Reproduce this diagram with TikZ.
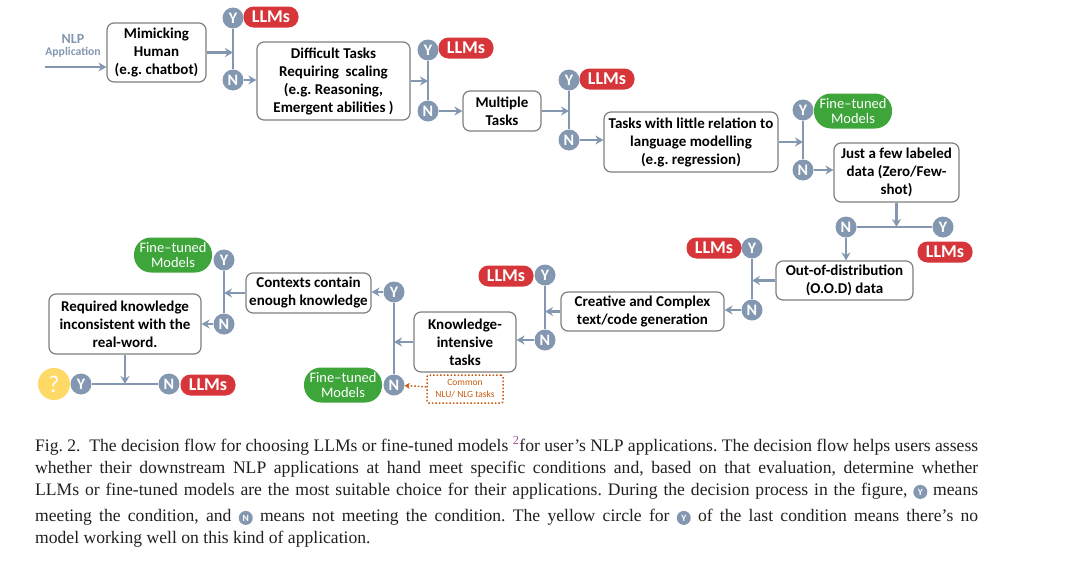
\documentclass[tikz,border=0pt]{standalone}
\usepackage{fontspec}
\setmainfont{Liberation Serif}
\newfontfamily\diafont{Carlito}
\usetikzlibrary{arrows.meta}
\definecolor{flowc}{HTML}{8497B0}
\definecolor{boxc}{HTML}{7F7F7F}
\definecolor{llmc}{HTML}{D6363A}
\definecolor{ftc}{HTML}{3DA53A}
\definecolor{orangec}{HTML}{C55A11}
\definecolor{askc}{HTML}{FFD966}
\definecolor{capc}{HTML}{231F20}
\definecolor{linkc}{HTML}{9B4F96}
\newcommand\capdot[1]{\tikz[baseline=(c.base)]\node (c) [circle, fill=flowc, text=white, inner sep=0pt, minimum size=14pt, font=\diafont\bfseries\fontsize{9.5}{9.5}\selectfont] {#1};}
\frenchspacing

\begin{document}
\begin{tikzpicture}[x=1pt, y=-1pt,
        box/.style={rectangle, draw=boxc, fill=white, line width=1.2pt, rounded corners=7pt, align=center, inner sep=2pt, font=\diafont\bfseries\fontsize{15}{18}\selectfont},
        yn/.style={circle, fill=flowc, text=white, inner sep=0pt, minimum size=21pt, font=\diafont\bfseries\fontsize{16}{16}\selectfont},
        llm/.style={rectangle, rounded corners=10pt, fill=llmc, text=white, minimum width=55pt, minimum height=21pt, inner sep=0pt, font=\diafont\bfseries\fontsize{18}{18}\selectfont},
        ft/.style={rectangle, rounded corners=17pt, fill=ftc, text=white, align=center, minimum width=78pt, minimum height=35pt, inner sep=0pt, font=\diafont\fontsize{14.5}{15}\selectfont},
        flow/.style={draw=flowc, line width=2.6pt},
        arrow/.style={flow, -{Stealth[length=8pt, width=9pt]}},
        caption/.style={anchor=base west, inner sep=0pt, text=capc, font=\fontsize{17.6}{22}\selectfont}]

        \useasboundingbox (0,0) rectangle (1080,565);

        \node (app) [text=flowc, align=center, font=\diafont\bfseries] at (73,46) {\fontsize{14}{16}\selectfont NLP\\\fontsize{11.7}{13}\selectfont Application};
        \coordinate (start) at (45,67);

        \node (b1) [box, minimum width=99pt, minimum height=59pt] at (156.5,52.5) {Mimicking\\Human\\(e.g. chatbot)};
        \node (b2) [box, minimum width=153pt, minimum height=78pt] at (333.5,81) {Difficult Tasks\\Requiring~ scaling\\(e.g. Reasoning,\\Emergent abilities )};
        \node (b3) [box, minimum width=78pt, minimum height=40pt] at (502,111) {Multiple\\Tasks};
        \node (b4) [box, minimum width=174pt, minimum height=60pt] at (691,142) {Tasks with little relation to\\language modelling\\(e.g. regression)};
        \node (b5) [box, minimum width=125pt, minimum height=59pt] at (896.5,172.5) {Just a few labeled\\data (Zero/Few-\\shot)};
        \node (b6) [box, minimum width=137pt, minimum height=39pt] at (844.5,280.5) {Out-of-distribution\\(O.O.D) data};
        \node (b7) [box, minimum width=163pt, minimum height=39pt] at (642.5,311.5) {Creative and Complex\\text/code generation};
        \node (b8) [box, minimum width=102pt, minimum height=60pt] at (465,342) {Knowledge-\\intensive\\tasks};
        \node (b9) [box, minimum width=125pt, minimum height=40pt] at (308.5,293) {Contexts contain\\enough knowledge};
        \node (b10) [box, minimum width=152pt, minimum height=60pt] at (125,324) {Required knowledge\\inconsistent with the\\real-word.};

        \node (y1) [yn] at (233,18) {Y};
        \node (n1) [yn] at (233,80) {N};
        \node (y2) [yn] at (428,50) {Y};
        \node (n2) [yn] at (428,111) {N};
        \node (y3) [yn] at (569,80) {Y};
        \node (n3) [yn] at (569,140) {N};
        \node (y4) [yn] at (803,110) {Y};
        \node (n4) [yn] at (803,170) {N};
        \node (n5) [yn] at (846,227) {N};
        \node (y5) [yn] at (943,227) {Y};
        \node (y6) [yn] at (752,248) {Y};
        \node (n6) [yn] at (752,310) {N};
        \node (y7) [yn] at (545,275) {Y};
        \node (n7) [yn] at (545,340) {N};
        \node (y8) [yn] at (394,292) {Y};
        \node (n8) [yn] at (394,385) {N};
        \node (y9) [yn] at (224,260) {Y};
        \node (n9) [yn] at (224,324) {N};
        \node (y10) [yn] at (81,384) {Y};
        \node (n10) [yn] at (169,384) {N};

        \node (l1) [llm] at (271,17) {LLMs};
        \node (l2) [llm] at (466,48) {LLMs};
        \node (l3) [llm] at (607,79) {LLMs};
        \node (l5) [llm] at (945,252) {LLMs};
        \node (l6) [llm] at (714,248) {LLMs};
        \node (l7) [llm] at (506,276) {LLMs};
        \node (l10) [llm] at (208,385) {LLMs};
        \node (f4) [ft] at (853,111) {Fine–tuned\\Models};
        \node (f8) [ft] at (343,385) {Fine–tuned\\Models};
        \node (f9) [ft] at (173,255) {Fine–tuned\\Models};
        \node (ask) [circle, fill=askc, text=white, minimum size=32pt, inner sep=0pt, font=\diafont\fontsize{24}{24}\selectfont] at (54,384) {?};
        \node (com) [draw=orangec, dotted, line width=1.5pt, rounded corners=2pt, text=orangec, align=center, minimum width=76pt, minimum height=28pt, inner sep=1pt, font=\diafont\fontsize{9.5}{12}\selectfont] at (465,389) {Common\\NLU/ NLG tasks};

        \draw [arrow] (start) -- (b1.west |- start);
        \draw [flow] (y1) -- (n1);
        \draw [arrow] (b1.east) -- (b1.east -| y1);
        \draw [arrow] (n1) -- (n1 -| b2.west);
        \draw [flow] (y2) -- (n2);
        \draw [arrow] (b2.east) -- (b2.east -| y2);
        \draw [arrow] (n2) -- (n2 -| b3.west);
        \draw [flow] (y3) -- (n3);
        \draw [arrow] (b3.east) -- (b3.east -| y3);
        \draw [arrow] (n3) -- (n3 -| b4.west);
        \draw [flow] (y4) -- (n4);
        \draw [arrow] (b4.east) -- (b4.east -| y4);
        \draw [arrow] (n4) -- (n4 -| b5.west);
        \draw [flow] (n5) -- (y5);
        \draw [arrow] (b5.south) -- (b5.south |- n5);
        \draw [arrow] (n5) -- (n5 |- b6.north);
        \draw [flow] (y6) -- (n6);
        \draw [arrow] (b6.west) -- (b6.west -| y6);
        \draw [arrow] (n6) -- (n6 -| b7.east);
        \draw [flow] (y7) -- (n7);
        \draw [arrow] (b7.west) -- (b7.west -| y7);
        \draw [arrow] (n7) -- (n7 -| b8.east);
        \draw [flow] (y8) -- (n8);
        \draw [arrow] (b8.west) -- (b8.west -| y8);
        \draw [arrow] (y8) -- (y8 -| b9.east);
        \draw [flow] (y9) -- (n9);
        \draw [arrow] (b9.west) -- (b9.west -| y9);
        \draw [arrow] (n9) -- (n9 -| b10.east);
        \draw [flow] (y10) -- (n10);
        \draw [arrow] (b10.south) -- (b10.south |- y10);
        \draw [orangec, dotted, line width=1.5pt, -{Stealth[length=5pt, width=6pt]}] (com) -- (n8);

        \node (cap1) [caption] at (35,451) {\makebox[943pt][s]{Fig. 2.\ \ The decision flow for choosing LLMs or fine-tuned models \textsuperscript{\textcolor{linkc}{2}}for user's NLP applications. The decision flow helps users assess}};
        \node (cap2) [caption] at (35,473) {\makebox[943pt][s]{whether their downstream NLP applications at hand meet specific conditions and, based on that evaluation, determine whether}};
        \node (cap3) [caption] at (35,495) {\makebox[943pt][s]{LLMs or fine-tuned models are the most suitable choice for their applications. During the decision process in the figure, \capdot{Y} means}};
        \node (cap4) [caption] at (35,521) {\makebox[943pt][s]{meeting the condition, and \capdot{N} means not meeting the condition. The yellow circle for \capdot{Y} of the last condition means there's no}};
        \node (cap5) [caption] at (35,543) {model working well on this kind of application.};
    \end{tikzpicture}
\end{document}
